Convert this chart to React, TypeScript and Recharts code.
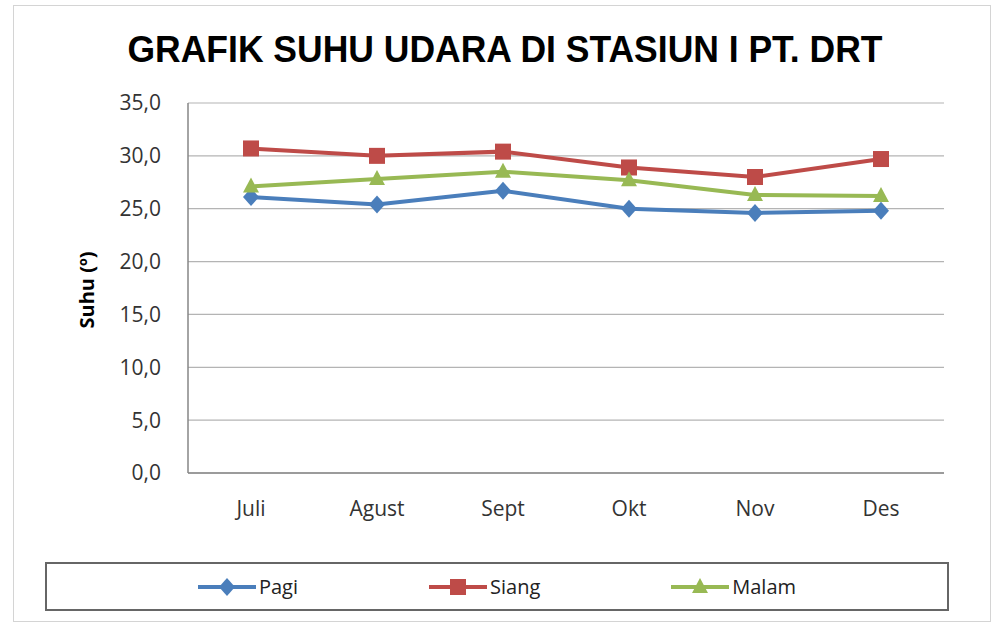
import { LineChart, Line, XAxis, YAxis, CartesianGrid } from 'recharts';

const months = ['Juli', 'Agust', 'Sept', 'Okt', 'Nov', 'Des'];
const pagi = [26.1, 25.4, 26.7, 25.0, 24.6, 24.8];
const siang = [30.7, 30.0, 30.4, 28.9, 28.0, 29.7];
const malam = [27.1, 27.8, 28.5, 27.7, 26.3, 26.2];
const yTicks = [0, 5, 10, 15, 20, 25, 30, 35];

const series = [
  { key: 'pagi', name: 'Pagi', color: '#4a7ebb', shape: 'diamond' },
  { key: 'siang', name: 'Siang', color: '#be4b48', shape: 'square' },
  { key: 'malam', name: 'Malam', color: '#98b954', shape: 'triangle' },
];

const data = months.map((m, i) => ({ month: m, pagi: pagi[i], siang: siang[i], malam: malam[i] }));

const FONT = '"Open Sans", Calibri, sans-serif';

function Marker({ cx, cy, shape, color }: { cx: number; cy: number; shape: string; color: string }) {
  if (shape === 'square') {
    return <rect x={cx - 8} y={cy - 8} width={16} height={16} fill={color} />;
  }
  if (shape === 'triangle') {
    return <path d={`M${cx},${cy - 9} L${cx + 8},${cy + 6} L${cx - 8},${cy + 6} Z`} fill={color} />;
  }
  return <path d={`M${cx},${cy - 9} L${cx + 8},${cy} L${cx},${cy + 9} L${cx - 8},${cy} Z`} fill={color} />;
}

export default function App() {
  return (
    <div style={{ position: 'absolute', left: 0, top: 0, width: 992, height: 623, background: '#fff' }}>
      <div
        style={{
          position: 'absolute',
          left: 13,
          top: 5,
          width: 976,
          height: 615,
          border: '1px solid #d4d4d4',
        }}
      />
      <svg width={992} height={623} style={{ position: 'absolute', left: 0, top: 0 }}>
        <text
          x={505}
          y={62}
          textAnchor="middle"
          fontFamily='"Liberation Sans Narrow", "Arial Narrow", sans-serif'
          fontWeight="bold"
          fontSize={37}
          textLength={755}
          lengthAdjust="spacingAndGlyphs"
          fill="#000"
        >
          GRAFIK SUHU  UDARA DI STASIUN I PT. DRT
        </text>
        <text
          x={0}
          y={0}
          transform="translate(94,290) rotate(-90)"
          textAnchor="middle"
          fontFamily={FONT}
          fontWeight="bold"
          fontSize={20}
          fill="#000"
        >
          Suhu (º)
        </text>
      </svg>
      <div style={{ position: 'absolute', left: 0, top: 0 }}>
        <LineChart width={992} height={623} data={data} margin={{ top: 103, right: 48, bottom: 120, left: 0 }}>
          <CartesianGrid vertical={false} stroke="#b4b4b4" strokeWidth={1.2} />
          <XAxis
            dataKey="month"
            padding={{ left: 63, right: 63 }}
            axisLine={{ stroke: '#868686', strokeWidth: 1.5 }}
            tickLine={false}
            tickSize={0}
            tickMargin={28}
            height={30}
            tick={{ fill: '#333', fontSize: 21, fontFamily: FONT }}
          />
          <YAxis
            width={188}
            domain={[0, 35]}
            ticks={yTicks}
            axisLine={{ stroke: '#868686', strokeWidth: 1.5 }}
            tickLine={false}
            tickSize={0}
            tickMargin={27}
            tickFormatter={(v: number) => v.toFixed(1).replace('.', ',')}
            tick={{ fill: '#333', fontSize: 21, fontFamily: FONT }}
          />
          {series.map((s) => (
            <Line
              key={s.key}
              dataKey={s.key}
              name={s.name}
              stroke={s.color}
              strokeWidth={4}
              isAnimationActive={false}
              dot={(p: any) => <Marker key={`${s.key}-${p.index}`} cx={p.cx} cy={p.cy} shape={s.shape} color={s.color} />}
              activeDot={false}
            />
          ))}
        </LineChart>
      </div>
      <div
        style={{
          position: 'absolute',
          left: 45,
          top: 562,
          width: 900,
          height: 45,
          border: '2px solid #666',
          display: 'flex',
          justifyContent: 'center',
          alignItems: 'center',
          gap: 131,
          fontFamily: FONT,
          fontSize: 20,
          color: '#222',
        }}
      >
        {series.map((s) => (
          <div key={s.key} style={{ display: 'flex', alignItems: 'center', gap: 3 }}>
            <svg width={58} height={22}>
              <line x1={0} y1={11} x2={58} y2={11} stroke={s.color} strokeWidth={4} />
              <Marker cx={29} cy={11} shape={s.shape} color={s.color} />
            </svg>
            <span>{s.name}</span>
          </div>
        ))}
      </div>
    </div>
  );
}
